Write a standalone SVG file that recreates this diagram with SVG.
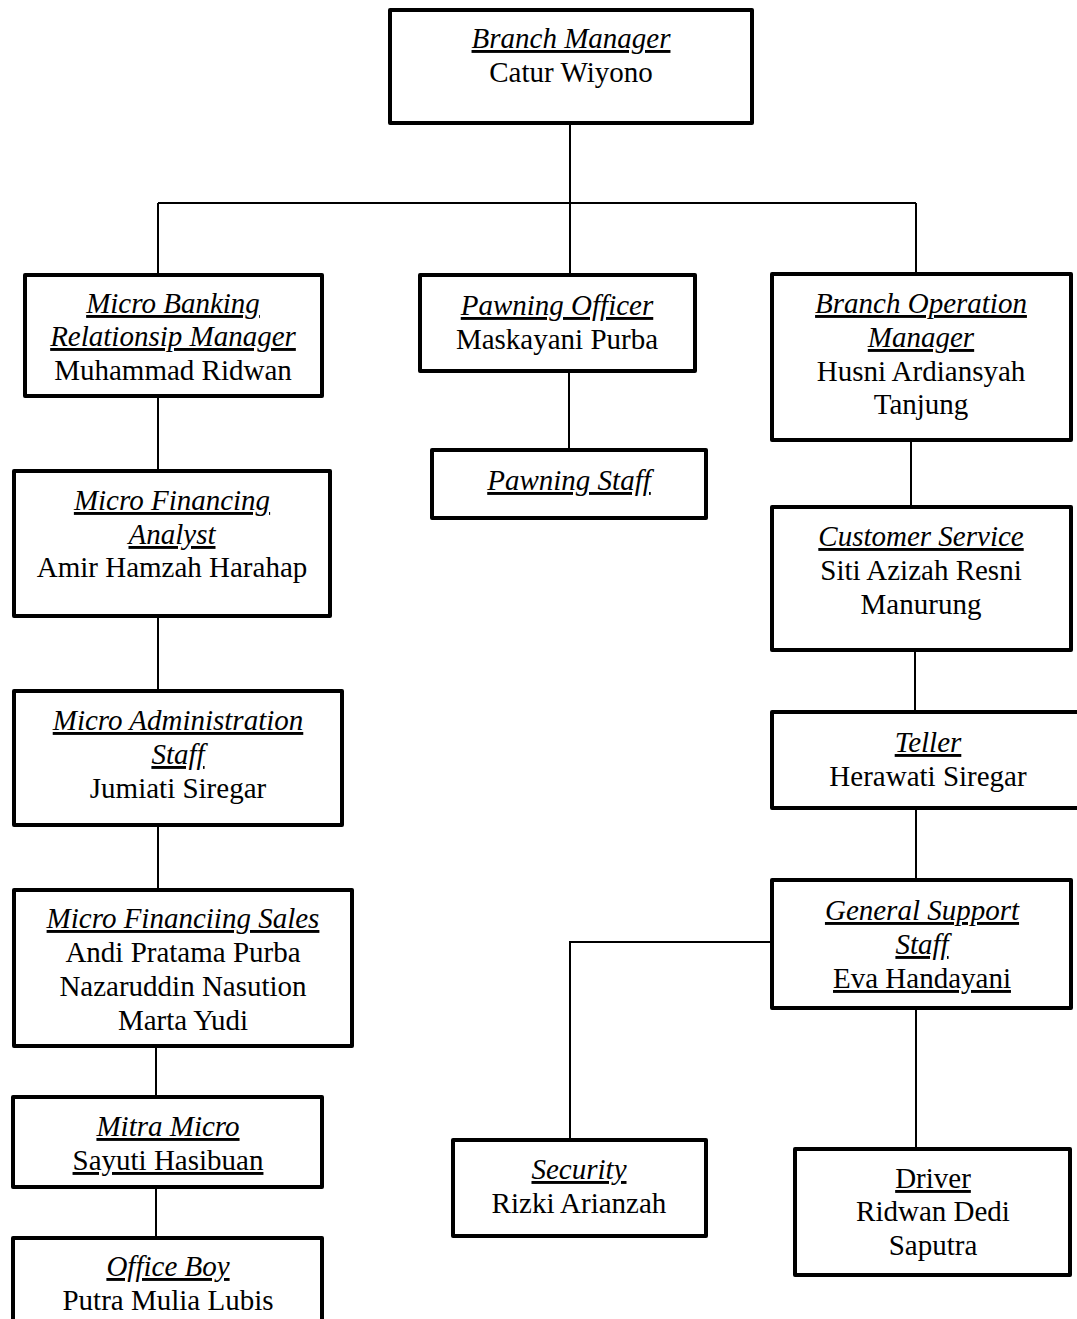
<svg xmlns="http://www.w3.org/2000/svg" width="1077" height="1319" viewBox="0 0 1077 1319">
<style>
.box{fill:#fff;stroke:#000;stroke-width:4;stroke-linejoin:round}
.ln{stroke:#000;stroke-width:2;fill:none}
text{font-family:"Liberation Serif","Times New Roman",serif;font-size:29px;fill:#000;text-anchor:middle}
.t{font-style:italic;text-decoration:underline}
.u{text-decoration:underline}
</style>
<rect width="1077" height="1319" fill="#fff"/>
<g id="connectors">
<path class="ln" d="M570 125V203M158 203H916M158 203V273M570 203V275M916 203V272"/>
<path class="ln" d="M158 398V469M158 618V689M158 827V888M156 1048V1095M156 1189V1236"/>
<path class="ln" d="M569 373V448"/>
<path class="ln" d="M911 442V505M915 652V710M916 810V878M770 942H570V1147M916 1010V1147"/>
</g>
<g id="branch-manager">
<rect class="box" x="390" y="10" width="362" height="113"/>
<text x="571" y="48" class="t">Branch Manager</text>
<text x="571" y="82">Catur Wiyono</text>
</g>
<g id="micro-banking">
<rect class="box" x="25" y="275" width="297" height="121"/>
<text x="173" y="313" class="t">Micro Banking</text>
<text x="173" y="346" class="t">Relationsip Manager</text>
<text x="173" y="380">Muhammad Ridwan</text>
</g>
<g id="micro-financing-analyst">
<rect class="box" x="14" y="471" width="316" height="145"/>
<text x="172" y="510" class="t">Micro Financing</text>
<text x="172" y="544" class="t">Analyst</text>
<text x="172" y="577">Amir Hamzah Harahap</text>
</g>
<g id="micro-admin">
<rect class="box" x="14" y="691" width="328" height="134"/>
<text x="178" y="730" class="t">Micro Administration</text>
<text x="178" y="764" class="t">Staff</text>
<text x="178" y="798">Jumiati Siregar</text>
</g>
<g id="micro-sales">
<rect class="box" x="14" y="890" width="338" height="156"/>
<text x="183" y="928" class="t">Micro Financiing Sales</text>
<text x="183" y="962">Andi Pratama Purba</text>
<text x="183" y="996">Nazaruddin Nasution</text>
<text x="183" y="1030">Marta Yudi</text>
</g>
<g id="mitra-micro">
<rect class="box" x="13" y="1097" width="309" height="90"/>
<text x="168" y="1136" class="t">Mitra Micro</text>
<text x="168" y="1170" class="u">Sayuti Hasibuan</text>
</g>
<g id="office-boy">
<rect class="box" x="13" y="1238" width="309" height="110"/>
<text x="168" y="1276" class="t">Office Boy</text>
<text x="168" y="1310">Putra Mulia Lubis</text>
</g>
<g id="pawning-officer">
<rect class="box" x="420" y="275" width="275" height="96"/>
<text x="557" y="315" class="t">Pawning Officer</text>
<text x="557" y="349">Maskayani Purba</text>
</g>
<g id="pawning-staff">
<rect class="box" x="432" y="450" width="274" height="68"/>
<text x="569" y="490" class="t">Pawning Staff</text>
</g>
<g id="branch-operation-manager">
<rect class="box" x="772" y="274" width="299" height="166"/>
<text x="921" y="313" class="t">Branch Operation</text>
<text x="921" y="347" class="t">Manager</text>
<text x="921" y="381">Husni Ardiansyah</text>
<text x="921" y="414">Tanjung</text>
</g>
<g id="customer-service">
<rect class="box" x="772" y="507" width="299" height="143"/>
<text x="921" y="546" class="t">Customer Service</text>
<text x="921" y="580">Siti Azizah Resni</text>
<text x="921" y="614">Manurung</text>
</g>
<g id="teller">
<rect class="box" x="772" y="712" width="312" height="96"/>
<text x="928" y="752" class="t">Teller</text>
<text x="928" y="786">Herawati Siregar</text>
</g>
<g id="general-support">
<rect class="box" x="772" y="880" width="299" height="128"/>
<text x="922" y="920" class="t">General Support</text>
<text x="922" y="954" class="t">Staff</text>
<text x="922" y="988" class="u">Eva Handayani</text>
</g>
<g id="security">
<rect class="box" x="453" y="1140" width="253" height="96"/>
<text x="579" y="1179" class="t">Security</text>
<text x="579" y="1213">Rizki Arianzah</text>
</g>
<g id="driver">
<rect class="box" x="795" y="1149" width="275" height="126"/>
<text x="933" y="1188" class="u">Driver</text>
<text x="933" y="1221">Ridwan Dedi</text>
<text x="933" y="1255">Saputra</text>
</g>
</svg>
